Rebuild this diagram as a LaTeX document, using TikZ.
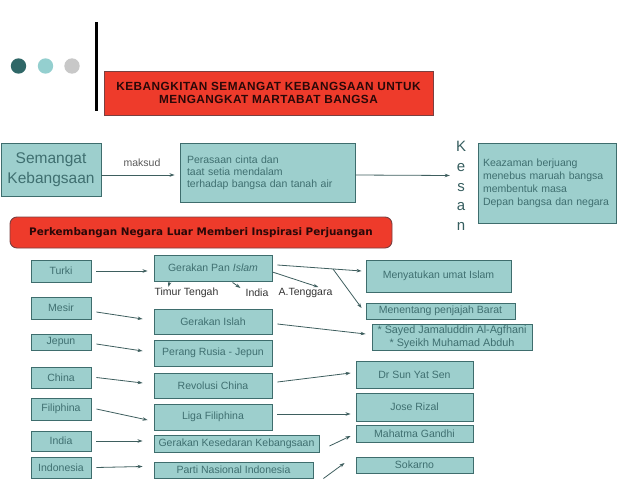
\documentclass[tikz,border=0pt]{standalone}
\usepackage{fontspec}
\setmainfont{Liberation Sans}
\newfontfamily\verd{DejaVu Sans}
\usetikzlibrary{arrows.meta,calc}
\definecolor{tfill}{HTML}{9DCFCD}
\definecolor{tbord}{HTML}{3E6D6D}
\definecolor{ttext}{HTML}{3F6F70}
\definecolor{rfill}{HTML}{EE3B2B}
\definecolor{rbord}{HTML}{7A4040}
\definecolor{rtext}{HTML}{2A0808}
\definecolor{arrc}{HTML}{3E5E5E}
\definecolor{dotA}{HTML}{2F6767}
\definecolor{dotB}{HTML}{94CFCF}
\definecolor{dotC}{HTML}{C8C8C8}
\definecolor{lbl}{HTML}{333333}
\hyphenpenalty=10000
\exhyphenpenalty=10000
\newcommand\fsz[2]{\fontsize{#1}{#2}\selectfont}
\newcommand\bx[7][]{\node[box,#1,minimum width={(#4-#2)*1pt},minimum height={(#5-#3)*1pt}] (#6) at ({(#2+#4)/2},{(#3+#5)/2}) {#7};}
\tikzset{
  box/.style={draw=tbord,fill=tfill,line width=0.9pt,inner sep=0pt,text=ttext,font=\fsz{10.5}{13}},
  redbox/.style={draw=rbord,fill=rfill,line width=0.9pt,inner sep=0pt,text=rtext},
  arr/.style={draw=arrc,line width=0.8pt,-{Stealth[length=5pt,width=3.5pt]}},
  lab/.style={inner sep=0pt,text=lbl,font=\fsz{10.5}{13}}
}
\begin{document}
\begin{tikzpicture}[x=1pt,y=-1pt]
\useasboundingbox (0,0) rectangle (638,479);
% decoration
\fill[dotA] (18.5,66) circle (7.7);
\fill[dotB] (45.5,66) circle (7.7);
\fill[dotC] (72,66) circle (7.7);
\draw[line width=3pt] (96,22) -- (96,111);
% title
\bx[redbox,align=center,font=\fsz{11.8}{13}\bfseries\addfontfeature{LetterSpace=4}]{104}{71}{433}{115}{title}{KEBANGKITAN SEMANGAT KEBANGSAAN UNTUK\\MENGANGKAT MARTABAT BANGSA}
% top row
\bx[align=center,font=\fsz{15.5}{19.5}]{1}{143}{101}{196}{sem}{Semangat\\Kebangsaan}
\bx[align=left,inner xsep=7pt,text width=161pt,font=\fsz{10.5}{12.2}]{180}{143}{355}{202}{per}{Perasaan cinta dan\\taat setia mendalam\\terhadap bangsa dan tanah air}
\bx[align=left,inner xsep=5pt,text width=128pt,font=\fsz{10.5}{13}]{478}{143}{616}{223}{kea}{Keazaman berjuang\\menebus maruah bangsa\\membentuk masa\\Depan bangsa dan negara}
\node[inner sep=0pt,text=ttext!85!black,font=\fsz{15}{19.8},align=center] (kesan) at (461,186) {K\\e\\s\\a\\n};
\node[inner sep=0pt,text=black!65,font=\fsz{10.5}{12}] (maksud) at (142,163) {maksud};
\draw[arr] ([yshift=-5.5]sem.east) -- ([xshift=-5,yshift=-2.5]per.west);
\draw[arr] ([yshift=-2.5]per.east) -- ([xshift=-6,yshift=10.5]kesan.west);
% red banner
\node[redbox,rounded corners=7pt,minimum width=382pt,minimum height=31pt,font=\verd\fsz{10.4}{12}\bfseries] (banner) at (201,232.5) {Perkembangan Negara Luar Memberi Inspirasi Perjuangan};
% left column
\bx{31}{260}{91}{282}{turki}{Turki}
\bx{31}{297}{91}{319}{mesir}{Mesir}
\bx{31}{334}{91}{350}{jepun}{Jepun}
\bx{31}{367}{91}{388}{china}{China}
\bx{31}{398}{91}{420}{fil}{Filiphina}
\bx{31}{431}{91}{451}{india}{India}
\bx{31}{457}{91}{478}{indo}{Indonesia}
% middle column
\bx{154}{255}{272}{281}{pan}{Gerakan Pan \textit{Islam}}
\bx{154}{309}{272}{334}{islah}{Gerakan Islah}
\bx{154}{340}{272}{366}{perang}{Perang Rusia - Jepun}
\bx{154}{373}{272}{398}{rev}{Revolusi China}
\bx{154}{404}{272}{430}{liga}{Liga Filiphina}
\bx{154}{435}{319}{452}{kes}{Gerakan Kesedaran Kebangsaan}
\bx{154}{462}{313}{478}{parti}{Parti Nasional Indonesia}
% right column
\bx{366}{260}{511}{292}{meny}{Menyatukan umat Islam}
\bx{366}{303}{515}{319}{menen}{Menentang penjajah Barat}
\bx[align=center,font=\fsz{10.8}{13.5}]{372}{324}{532}{350}{sayed}{* Sayed Jamaluddin Al-Agfhani\\* Syeikh Muhamad Abduh}
\bx{356}{361}{473}{388}{sun}{Dr Sun Yat Sen}
\bx{356}{393}{473}{421}{jose}{Jose Rizal}
\bx{356}{425}{473}{442}{gandhi}{Mahatma Gandhi}
\bx{356}{457}{473}{473}{sokarno}{Sokarno}
% labels under Pan Islam
\node[lab] (tt) at (186.5,293) {Timur Tengah};
\node[lab] (ind) at (257,293) {India};
\node[lab] (at) at (305.5,293) {A.Tenggara};
% arrows
\draw[arr] ([xshift=5]turki.east) -- ([xshift=-6,yshift=-3]pan.west);
\draw[arr] ([xshift=16,yshift=-1]pan.south west) -- ([xshift=14,yshift=1]tt.north west);
\draw[arr] ([xshift=79,yshift=-1]pan.south west) -- ([xshift=-5,yshift=1]ind.north west);
\draw[arr] ([yshift=-4]pan.east) -- ([xshift=40,yshift=1]at.north west);
\draw[arr] ([xshift=5,yshift=3]pan.east) -- coordinate[pos=0.66] (br) ([xshift=-4,yshift=5]meny.west);
\draw[arr] (br) -- ([xshift=-4,yshift=3]menen.west);
\draw[arr] ([xshift=5,yshift=-4]mesir.east) -- ([xshift=-11,yshift=2.5]islah.west);
\draw[arr] ([xshift=5,yshift=-2.5]islah.east) -- ([xshift=-6,yshift=3]sayed.west);
\draw[arr] ([xshift=5,yshift=-2]jepun.east) -- ([xshift=-11,yshift=2]perang.west);
\draw[arr] ([xshift=5]china.east) -- ([xshift=-11,yshift=2.5]rev.west);
\draw[arr] ([xshift=5,yshift=3.5]rev.east) -- ([xshift=-5,yshift=1.5]sun.west);
\draw[arr] ([xshift=5]fil.east) -- ([xshift=-6,yshift=-3]liga.west);
\draw[arr] ([xshift=5,yshift=3]liga.east) -- ([xshift=-5,yshift=-7]jose.west);
\draw[arr] ([xshift=5]india.east) -- ([xshift=-11,yshift=2.5]kes.west);
\draw[arr] ([xshift=10,yshift=-2.5]kes.east) -- ([xshift=-5,yshift=-2.5]gandhi.west);
\draw[arr] ([xshift=5]indo.east) -- ([xshift=-11,yshift=3.5]parti.west);
\draw[arr] ([xshift=10,yshift=-8.5]parti.east) -- ([xshift=-11,yshift=2]sokarno.west);
\end{tikzpicture}
\end{document}
